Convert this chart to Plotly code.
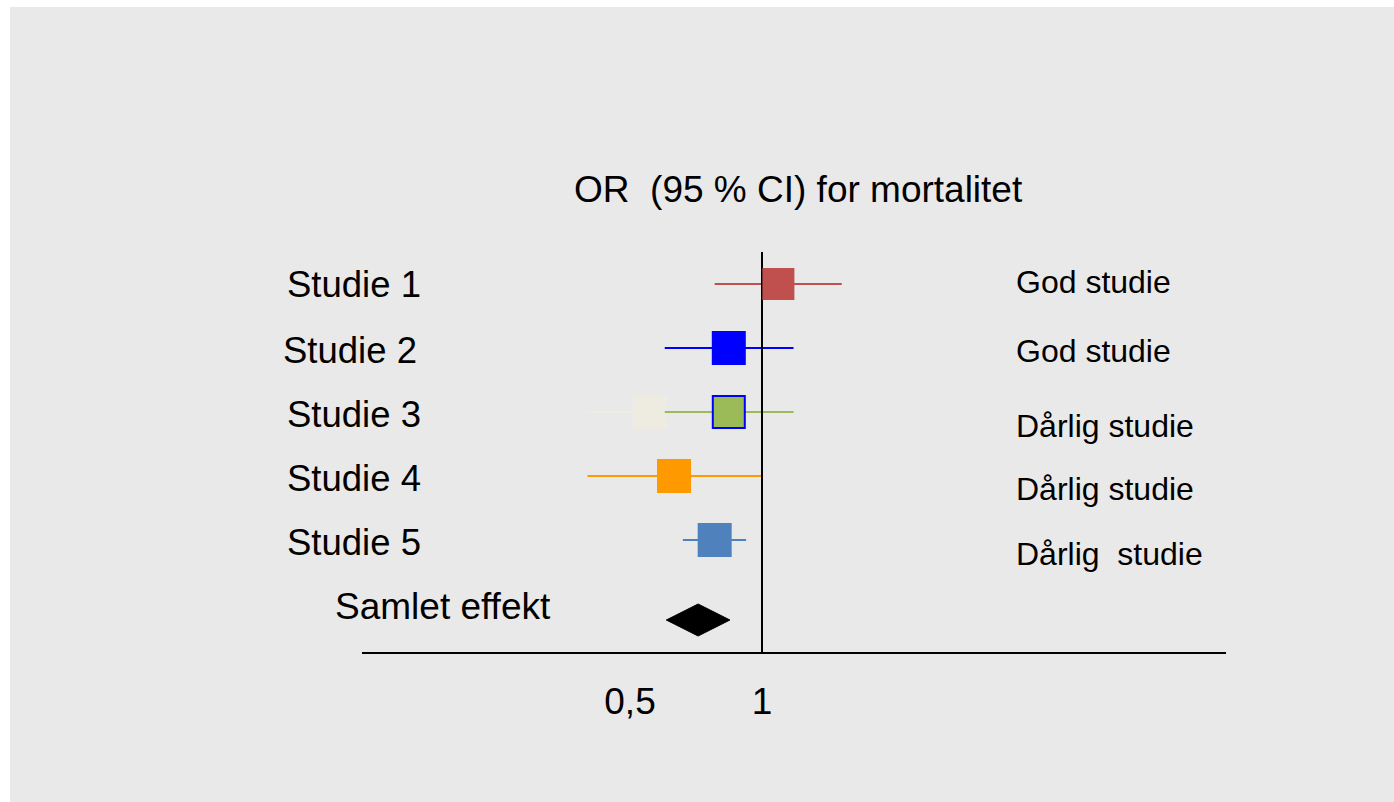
import plotly.graph_objects as go

# ---------------- data ----------------
studies = ["Studie 1", "Studie 2", "Studie 3", "Studie 4", "Studie 5"]
quality = ["God studie", "God studie", "Dårlig studie", "Dårlig studie", "Dårlig\u00a0 studie"]
or_est = [1.09, 0.84, 0.84, 0.63, 0.78]
ci_low = [0.78, 0.60, 0.60, 0.40, 0.66]
ci_high = [1.52, 1.18, 1.18, 1.00, 0.92]

# faded (earlier) estimate shown behind Studie 3
ghost_est = [0.555]
ghost_low = [0.40]
ghost_high = [0.60]

pooled_label = "Samlet effekt"
pooled_est = [0.715]
pooled_low = [0.605]
pooled_high = [0.845]

tick_vals = [0.5, 1]
tick_text = ["0,5", "1"]
title_text = "OR \u00a0(95 % CI) for mortalitet"

# ---------------- styles ----------------
colors = ["#C0504D", "#0000FF", "#9BBB59", "#FF9900", "#4F81BD"]
marker_sizes = [32, 34, 32, 34, 34]
marker_line_colors = [None, None, "#0000FF", None, None]
ghost_color = "#EEECE1"
bg_color = "#E9E9E9"
FONT = "Liberation Sans, Arial, sans-serif"

W, H = 1394, 802
L, R, T, B = 362, 168, 252, 150
PW, PH = W - L - R, H - T - B


def pxx(px):
    return (px - L) / PW


def pxy(py):
    return (H - B - py) / PH


rows = list(range(1, len(studies) + 1))
pooled_row = 6.25

fig = go.Figure()

# ghost study 3
fig.add_trace(go.Scatter(x=[ghost_low[0], ghost_high[0]], y=[3, 3], mode="lines",
                         line=dict(color=ghost_color, width=2), hoverinfo="skip", showlegend=False))
fig.add_trace(go.Scatter(x=ghost_est, y=[3], mode="markers",
                         marker=dict(symbol="square", size=34, color=ghost_color, line=dict(width=0)),
                         hoverinfo="skip", showlegend=False))

# CI lines
for i, s in enumerate(studies):
    fig.add_trace(go.Scatter(x=[ci_low[i], ci_high[i]], y=[rows[i], rows[i]], mode="lines",
                             line=dict(color=colors[i], width=2), name=s, showlegend=False))

# reference line at OR = 1
fig.add_trace(go.Scatter(x=[1, 1], y=[0.5, 6.75], mode="lines",
                         line=dict(color="black", width=2), hoverinfo="skip", showlegend=False))

# point estimates
for i, s in enumerate(studies):
    mline = dict(width=0)
    if marker_line_colors[i]:
        mline = dict(width=2, color=marker_line_colors[i])
    fig.add_trace(go.Scatter(x=[or_est[i]], y=[rows[i]], mode="markers",
                             marker=dict(symbol="square", size=marker_sizes[i], color=colors[i], line=mline),
                             name=s, showlegend=False))

# pooled diamond
fig.add_trace(go.Scatter(
    x=[pooled_low[0], pooled_est[0], pooled_high[0], pooled_est[0], pooled_low[0]],
    y=[pooled_row, pooled_row - 0.25, pooled_row, pooled_row + 0.25, pooled_row],
    mode="lines", fill="toself", fillcolor="black", line=dict(color="black", width=1),
    name=pooled_label, showlegend=False))

annotations = []
annotations.append(dict(text=title_text, x=pxx(798), y=pxy(189), xref="paper", yref="paper",
                        xanchor="center", yanchor="middle", showarrow=False,
                        font=dict(family=FONT, size=37, color="black")))
left_px = [285, 281, 285, 285, 285]
left_py = [284, 350, 414, 478, 542]
for i, s in enumerate(studies):
    annotations.append(dict(text=s, x=pxx(left_px[i]), y=pxy(left_py[i]), xref="paper", yref="paper",
                            xanchor="left", yanchor="middle", showarrow=False,
                            font=dict(family=FONT, size=36.5, color="black")))
annotations.append(dict(text=pooled_label, x=pxx(333), y=pxy(606), xref="paper", yref="paper",
                        xanchor="left", yanchor="middle", showarrow=False,
                        font=dict(family=FONT, size=37, color="black")))
right_py = [282, 351, 426, 489, 554]
for i, q in enumerate(quality):
    annotations.append(dict(text=q, x=pxx(1014), y=pxy(right_py[i]), xref="paper", yref="paper",
                            xanchor="left", yanchor="middle", showarrow=False,
                            font=dict(family=FONT, size=32, color="black")))

K = 132 / 0.30103
xr = [(L - 762) / K, (L + PW - 762) / K]

fig.update_layout(
    width=W, height=H,
    margin=dict(l=L, r=R, t=T, b=B, pad=0),
    paper_bgcolor="white",
    plot_bgcolor="rgba(0,0,0,0)",
    showlegend=False,
    annotations=annotations,
    shapes=[dict(type="rect", xref="paper", yref="paper", layer="below",
                 x0=pxx(10), x1=pxx(W + 5), y0=pxy(H + 5), y1=pxy(7),
                 fillcolor=bg_color, line=dict(width=0))],
    xaxis=dict(type="log", range=xr, showgrid=False, zeroline=False,
               showline=True, linecolor="black", linewidth=2,
               tickvals=tick_vals, ticktext=tick_text, ticks="",
               ticklabelstandoff=16,
               tickfont=dict(family=FONT, size=37, color="black"), fixedrange=True),
    yaxis=dict(range=[6.75, 0.5], visible=False, fixedrange=True),
)

fig.write_html("out.html", config={"displayModeBar": False},
               post_script="document.body.style.margin='0px';")
